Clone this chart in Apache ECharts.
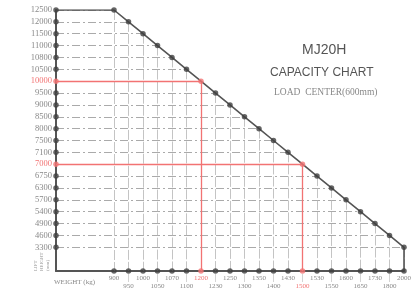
<!DOCTYPE html>
<html>
<head>
<meta charset="utf-8">
<script src="https://cdn.jsdelivr.net/npm/echarts@6/dist/echarts.min.js"></script>
<style>html,body{margin:0;padding:0;background:#fff}#c{width:414px;height:292px}</style>
</head>
<body>
<div id="c"></div>
<script>
// Lift height (mm) tick labels, top to bottom
const liftHeights = ['12500','12000','11500','11000','10800','10500','10000','9500','9000','8500','8000','7500','7100','7000','6750','6300','5700','5400','4900','4600','3300'];
// Weight (kg) tick labels, left to right
const weights = ['900','950','1000','1050','1070','1100','1200','1230','1250','1300','1350','1400','1430','1500','1530','1550','1600','1650','1730','1800','2000'];
// Capacity curve: weight[i] is allowed up to liftHeight[i]
const curveWeights = weights.slice();
const curveHeights = liftHeights.slice();
// Highlighted reading examples
const markedHeights = ['10000','7000'];
const markedWeights = ['1200','1500'];

const X_MIN = -4, Y_MAX = 22;
const xi = w => weights.indexOf(w);
const yi = h => liftHeights.indexOf(h);
const RED = '#f27373', DARK = '#555';
const N = weights.length - 1;

const curvePts = curveWeights.map((w, k) => [xi(w), yi(curveHeights[k])]);
const lineData = [[X_MIN, curvePts[0][1]]].concat(curvePts, [[curvePts[N][0], Y_MAX]]);

const hGrid = [], vGrid = [];
curvePts.forEach(p => {
  hGrid.push({coords: [[X_MIN, p[1]], p]});
  vGrid.push({coords: [p, [p[0], Y_MAX]]});
});
const redLines = [];
markedWeights.forEach((w, k) => {
  const p = [xi(w), yi(markedHeights[k])];
  redLines.push({coords: [[X_MIN, p[1]], p]});
  redLines.push({coords: [p, [p[0], Y_MAX]]});
});
const dotColor = (isRed) => isRed ? RED : '#3f3f3f';
const yAxisDots = liftHeights.map((h, k) => ({value: [X_MIN, k], itemStyle: {color: dotColor(markedHeights.includes(h))}}));
const xAxisDots = weights.map((w, k) => ({value: [k, Y_MAX], itemStyle: {color: dotColor(markedWeights.includes(w))}}));
const curveDots = curvePts.map((p, k) => ({value: p, itemStyle: {color: dotColor(markedWeights.includes(curveWeights[k]) && markedHeights.includes(curveHeights[k]))}}));

const chart = echarts.init(document.getElementById('c'), null, {renderer: 'canvas'});
const serif = 'Liberation Serif';
chart.setOption({
  animation: false,
  grid: {left: 56, right: 8, top: 10, bottom: 21, containLabel: false},
  xAxis: {
    type: 'value', min: X_MIN, max: N, interval: 1,
    axisLine: {show: true, onZero: false, lineStyle: {color: DARK, width: 2}},
    axisTick: {show: false}, splitLine: {show: false},
    axisLabel: {
      margin: 3, showMaxLabel: true, showMinLabel: true, hideOverlap: false,
      formatter: v => {
        if (v < 0 || v > N || Math.abs(v - Math.round(v)) > 1e-6) return '';
        const k = Math.round(v);
        const lab = weights[k];
        const st = markedWeights.includes(lab) ? 'r' : 't';
        return k % 2 === 0 ? `{${st}|${lab}}` : `{b||}\n{${st}|${lab}}`;
      },
      rich: {
        t: {fontFamily: serif, fontSize: 7, color: '#888', lineHeight: 8},
        r: {fontFamily: serif, fontSize: 7, color: RED, lineHeight: 8},
        b: {fontFamily: serif, fontSize: 8, color: '#999', lineHeight: 8}
      }
    }
  },
  yAxis: {
    type: 'value', inverse: true, min: 0, max: Y_MAX, interval: 1,
    axisLine: {show: true, onZero: false, lineStyle: {color: DARK, width: 2}},
    axisTick: {show: false}, splitLine: {show: false},
    axisLabel: {
      margin: 4, showMinLabel: true, hideOverlap: false,
      formatter: v => {
        if (v > N) return '';
        const lab = liftHeights[v];
        return markedHeights.includes(lab) ? `{r|${lab}}` : `{t|${lab}}`;
      },
      rich: {
        t: {fontFamily: serif, fontSize: 8.5, color: '#888'},
        r: {fontFamily: serif, fontSize: 8.5, color: RED}
      }
    }
  },
  series: [
    {type: 'lines', coordinateSystem: 'cartesian2d', data: hGrid, silent: true, z: 1,
     lineStyle: {color: '#aaa', width: 1, type: [8, 3, 2, 3], opacity: 1}},
    {type: 'lines', coordinateSystem: 'cartesian2d', data: vGrid, silent: true, z: 1,
     lineStyle: {color: '#b5b5b5', width: 0.8, type: [10, 2], opacity: 1}},
    {type: 'lines', coordinateSystem: 'cartesian2d', data: redLines, silent: true, z: 2,
     lineStyle: {color: RED, width: 1.3, opacity: 1}},
    {type: 'line', data: lineData, showSymbol: false, z: 3,
     lineStyle: {color: DARK, width: 1.6}},
    {type: 'scatter', data: curveDots.concat(yAxisDots, xAxisDots), symbolSize: 5.5, z: 4}
  ],
  graphic: [
    {type: 'text', left: 302, top: 43, style: {text: 'MJ20H', font: '14px "Liberation Sans"', fill: '#555'}},
    {type: 'text', left: 270, top: 67, style: {text: 'CAPACITY CHART', font: '12px "Liberation Sans"', fill: '#555'}},
    {type: 'text', left: 274, top: 87, style: {text: 'LOAD  CENTER(600mm)', font: '9.5px "Liberation Serif"', fill: '#888'}},
    {type: 'text', left: 54, top: 279, style: {text: 'WEIGHT (kg)', font: '7px "Liberation Serif"', fill: '#888'}},
    {type: 'text', x: 33, y: 271, rotation: Math.PI / 2, style: {text: 'LIFT\nHEIGHT\n(mm)', font: '5px "Liberation Serif"', fill: '#999', lineHeight: 6}}
  ]
});
</script>
</body>
</html>
